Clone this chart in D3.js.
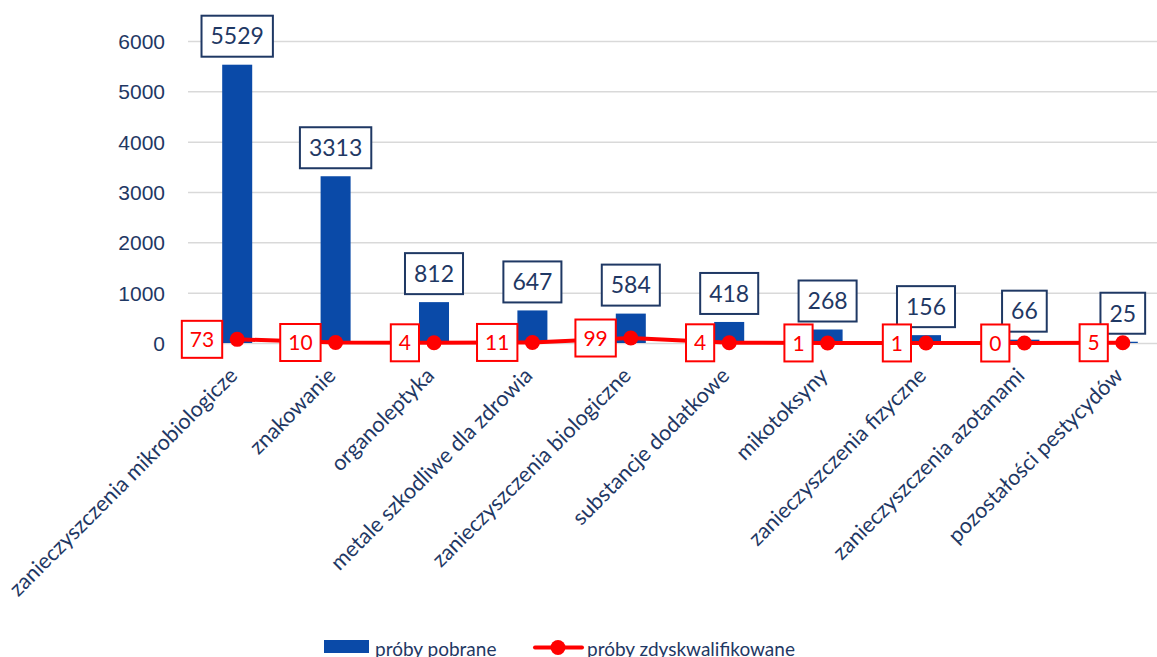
<!DOCTYPE html>
<html>
<head>
<meta charset="utf-8">
<script src="https://cdn.jsdelivr.net/npm/d3@7/dist/d3.min.js"></script>
<style>
  html, body { margin: 0; padding: 0; background: #fff; overflow: hidden; }
  svg { display: block; font-family: Lato, "Open Sans", sans-serif; }
</style>
</head>
<body>
<svg id="chart" width="1157" height="657"></svg>
<script>
// Categories of checks and the two counts for each
const categories = [
  "zanieczyszczenia mikrobiologicze",
  "znakowanie",
  "organoleptyka",
  "metale szkodliwe dla zdrowia",
  "zanieczyszczenia biologiczne",
  "substancje dodatkowe",
  "mikotoksyny",
  "zanieczyszczenia fizyczne",
  "zanieczyszczenia azotanami",
  "pozostałości pestycydów"
];
const samplesTaken = [5529, 3313, 812, 647, 584, 418, 268, 156, 66, 25];
const samplesRejected = [73, 10, 4, 11, 99, 4, 1, 1, 0, 5];
const yTicks = [0, 1000, 2000, 3000, 4000, 5000, 6000];
const seriesNames = ["próby pobrane", "próby zdyskwalifikowane"];

const NAVY = "#1f3864";
const BLUE = "#0a4aa8";
const RED = "#ff0000";
const GRID = "#d9d9d9";

const svg = d3.select("#chart");

const x = d3.scaleBand()
  .domain(categories)
  .range([188, 1172])
  .paddingInner(0.695)
  .paddingOuter(0.3475);
const cx = c => x(c) + x.bandwidth() / 2;

const y = d3.scaleLinear().domain([0, 6000]).range([343, 41]);

// Horizontal gridlines and value axis
const yAxis = d3.axisLeft(y).tickValues(yTicks).tickSize(0).tickPadding(23).tickFormat(d3.format("d"));
const gy = svg.append("g").attr("transform", "translate(188,0)").call(yAxis);
gy.select(".domain").remove();
gy.selectAll("text").attr("fill", NAVY).attr("font-size", 21).attr("dy", "0.36em");
gy.selectAll(".tick").append("line")
  .attr("x1", 0).attr("x2", 1000)
  .attr("stroke", GRID).attr("stroke-width", 1.5);
gy.lower();

// Bars
svg.append("g").selectAll("rect")
  .data(categories)
  .join("rect")
  .attr("x", d => x(d))
  .attr("width", x.bandwidth())
  .attr("y", (d, i) => y(samplesTaken[i]))
  .attr("height", (d, i) => y(0) - y(samplesTaken[i]))
  .attr("fill", BLUE);

// Bar value labels in outlined boxes
const barLabels = svg.append("g").selectAll("g")
  .data(categories)
  .join("g");
barLabels.each(function (d, i) {
  const g = d3.select(this);
  const t = g.append("text")
    .attr("x", cx(d))
    .attr("y", y(samplesTaken[i]) - 8 - 20.5)
    .attr("dy", "0.36em")
    .attr("text-anchor", "middle")
    .attr("font-size", 23)
    .attr("fill", NAVY)
    .text(samplesTaken[i]);
  const w = t.node().getComputedTextLength() + 18;
  g.insert("rect", "text")
    .attr("x", cx(d) - w / 2)
    .attr("y", y(samplesTaken[i]) - 8 - 41)
    .attr("width", w)
    .attr("height", 41)
    .attr("fill", "#fff")
    .attr("stroke", NAVY)
    .attr("stroke-width", 2);
});

// Rejected samples line with markers
const line = d3.line()
  .x((d, i) => cx(categories[i]))
  .y(d => y(d));
svg.append("path")
  .datum(samplesRejected)
  .attr("d", line)
  .attr("fill", "none")
  .attr("stroke", RED)
  .attr("stroke-width", 4);
svg.append("g").selectAll("circle")
  .data(samplesRejected)
  .join("circle")
  .attr("cx", (d, i) => cx(categories[i]))
  .attr("cy", d => y(d))
  .attr("r", 7.5)
  .attr("fill", RED);

// Line value labels, boxed to the left of each marker
const lineLabels = svg.append("g").selectAll("g")
  .data(samplesRejected)
  .join("g");
lineLabels.each(function (v, i) {
  const g = d3.select(this);
  const px = cx(categories[i]);
  const py = y(v);
  const t = g.append("text")
    .attr("y", py)
    .attr("dy", "0.36em")
    .attr("text-anchor", "middle")
    .attr("font-size", 21)
    .attr("fill", RED)
    .text(v);
  const w = t.node().getComputedTextLength() + 16;
  const right = px - 15;
  t.attr("x", right - w / 2);
  g.insert("rect", "text")
    .attr("x", right - w)
    .attr("y", py - 18.5)
    .attr("width", w)
    .attr("height", 37)
    .attr("fill", "#fff")
    .attr("stroke", RED)
    .attr("stroke-width", 2);
});

// Rotated category labels
svg.append("g").selectAll("text")
  .data(categories)
  .join("text")
  .attr("transform", d => `translate(${cx(d) + 1.5},${377}) rotate(-45)`)
  .attr("text-anchor", "end")
  .attr("font-size", 21.6)
  .attr("fill", NAVY)
  .text(d => d);

// Legend
const legend = svg.append("g");
legend.append("rect")
  .attr("x", 324).attr("y", 640).attr("width", 45).attr("height", 13)
  .attr("fill", BLUE);
legend.append("text")
  .attr("x", 375).attr("y", 656)
  .attr("font-size", 19).attr("fill", NAVY)
  .text(seriesNames[0]);
legend.append("line")
  .attr("x1", 535).attr("x2", 582).attr("y1", 647.5).attr("y2", 647.5)
  .attr("stroke", RED).attr("stroke-width", 4).attr("stroke-linecap", "round");
legend.append("circle")
  .attr("cx", 558).attr("cy", 647.5).attr("r", 7.5).attr("fill", RED);
legend.append("text")
  .attr("x", 587).attr("y", 656)
  .attr("font-size", 19).attr("fill", NAVY)
  .text(seriesNames[1]);
</script>
</body>
</html>
